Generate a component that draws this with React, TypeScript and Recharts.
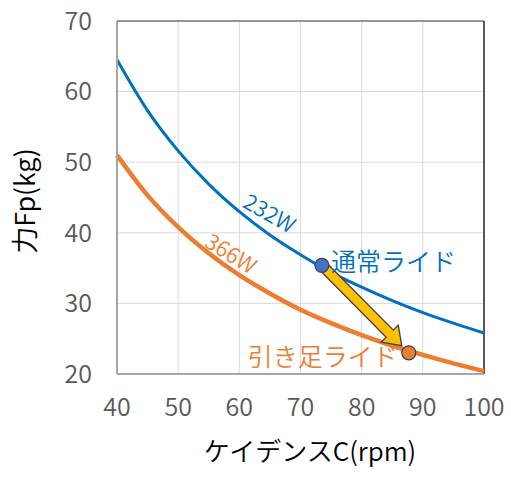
import React from 'react';
import {
  ComposedChart,
  Line,
  XAxis,
  YAxis,
  CartesianGrid,
  ReferenceLine,
  ReferenceDot,
} from 'recharts';

document.body.style.margin = '0';

const cadence = [40, 45, 50, 55, 60, 65, 70, 75, 80, 85, 90, 95, 100];
const normalForce = [64.5, 57.3, 51.6, 46.9, 43.0, 39.7, 36.9, 34.4, 32.3, 30.4, 28.7, 27.2, 25.8];
const pullForce = [51.0, 45.3, 40.8, 37.1, 34.0, 31.4, 29.1, 27.2, 25.5, 24.0, 22.7, 21.5, 20.4];

const xTicks = [40, 50, 60, 70, 80, 90, 100];
const yTicks = [20, 30, 40, 50, 60, 70];

const normalRide = { c: 73.5, f: 35.4, label: '通常ライド' };
const pullRide = { c: 87.7, f: 23.0, label: '引き足ライド' };
const normalWatt = { c: 65.1, f: 43.0, label: '232W' };
const pullWatt = { c: 58.8, f: 37.3, label: '366W' };

const data = cadence.map((c, i) => ({ c, normal: normalForce[i], pull: pullForce[i] }));

const BLUE = '#0070C0';
const ORANGE = '#ED7D31';
const FONT = '"Noto Sans CJK JP", "Noto Sans", sans-serif';
const WEIGHT = 350;

// fat yellow arrow from one point toward another, stopping short of the end dot
const Arrow = (props: any) => {
  const { x1, y1, x2, y2 } = props;
  const dx = x2 - x1;
  const dy = y2 - y1;
  const len = Math.sqrt(dx * dx + dy * dy);
  const ux = dx / len;
  const uy = dy / len;
  const px = -uy;
  const py = ux;
  const total = len - 10;
  const head = 17;
  const shaft = 5;
  const wing = 12;
  const pt = (along: number, side: number) =>
    `${x1 + ux * along + px * side},${y1 + uy * along + py * side}`;
  const points = [
    pt(0, shaft),
    pt(total - head, shaft),
    pt(total - head, wing),
    pt(total, 0),
    pt(total - head, -wing),
    pt(total - head, -shaft),
    pt(0, -shaft),
  ].join(' ');
  return <polygon points={points} fill="#FFC000" stroke="#3A3F55" strokeWidth={1.3} strokeLinejoin="miter" />;
};

const slopeLabel = (text: string, color: string, angle: number) => (props: any) => {
  const { cx, cy } = props;
  return (
    <text
      x={cx}
      y={cy}
      fill={color}
      fontSize={22}
      fontWeight={WEIGHT}
      fontFamily={FONT}
      textAnchor="middle"
      dominantBaseline="central"
      transform={`rotate(${angle} ${cx} ${cy})`}
    >
      {text}
    </text>
  );
};

const rideDot = (text: string, color: string, fill: string, side: 'right' | 'left', dy: number) => (props: any) => {
  const { cx, cy } = props;
  return (
    <g>
      <circle cx={cx} cy={cy} r={7} fill={fill} stroke="#3A3F55" strokeWidth={1.2} />
      <text
        x={side === 'right' ? cx + 9 : cx - 11}
        y={cy + dy}
        fill={color}
        fontSize={25}
        fontWeight={WEIGHT}
        fontFamily={FONT}
        textAnchor={side === 'right' ? 'start' : 'end'}
        dominantBaseline="central"
      >
        {text}
      </text>
    </g>
  );
};

const tickStyle = { fill: '#595959', fontSize: 25, fontWeight: WEIGHT, fontFamily: FONT };

export default function App() {
  return (
    <div style={{ position: 'relative', width: 511, height: 479, background: '#fff' }}>
      <ComposedChart
        width={511}
        height={479}
        data={data}
        margin={{ top: 21, right: 27, left: 0, bottom: 0 }}
      >
        <CartesianGrid stroke="#D9D9D9" strokeWidth={1} />
        <XAxis
          dataKey="c"
          type="number"
          domain={[40, 100]}
          ticks={xTicks}
          height={105}
          tickLine={false}
          tickSize={0}
          tickMargin={24}
          axisLine={{ stroke: '#A6A6A6', strokeWidth: 2 }}
          tick={tickStyle}
          interval={0}
        />
        <YAxis
          type="number"
          domain={[20, 70]}
          ticks={yTicks}
          width={117}
          tickLine={false}
          tickSize={0}
          tickMargin={25}
          axisLine={{ stroke: '#A6A6A6', strokeWidth: 2 }}
          tick={tickStyle}
          interval={0}
        />
        <ReferenceLine y={70} stroke="#404040" strokeWidth={1} />
        <ReferenceLine x={100} stroke="#262626" strokeWidth={1.5} />
        <Line
          dataKey="normal"
          type="monotone"
          stroke={BLUE}
          strokeWidth={3}
          dot={false}
          activeDot={false}
          isAnimationActive={false}
        />
        <Line
          dataKey="pull"
          type="monotone"
          stroke={ORANGE}
          strokeWidth={4.5}
          dot={false}
          activeDot={false}
          isAnimationActive={false}
        />
        <ReferenceLine
          segment={[
            { x: normalRide.c, y: normalRide.f },
            { x: pullRide.c, y: pullRide.f },
          ]}
          shape={Arrow}
        />
        <ReferenceDot x={normalWatt.c} y={normalWatt.f} r={0} shape={slopeLabel(normalWatt.label, BLUE, 30)} />
        <ReferenceDot x={pullWatt.c} y={pullWatt.f} r={0} shape={slopeLabel(pullWatt.label, ORANGE, 32)} />
        <ReferenceDot
          x={normalRide.c}
          y={normalRide.f}
          r={7}
          shape={rideDot(normalRide.label, BLUE, '#4472C4', 'right', -5)}
        />
        <ReferenceDot
          x={pullRide.c}
          y={pullRide.f}
          r={7}
          shape={rideDot(pullRide.label, ORANGE, ORANGE, 'left', 2)}
        />
      </ComposedChart>
      <div
        style={{
          position: 'absolute',
          left: 23,
          top: 201,
          transform: 'translate(-50%, -50%) rotate(-90deg)',
          fontFamily: FONT,
          fontSize: 27,
          fontWeight: WEIGHT,
          color: '#000',
          whiteSpace: 'nowrap',
          lineHeight: 1,
        }}
      >
        力Fp(kg)
      </div>
      <div
        style={{
          position: 'absolute',
          left: 310,
          top: 450,
          transform: 'translate(-50%, -50%)',
          fontFamily: FONT,
          fontSize: 26,
          fontWeight: WEIGHT,
          color: '#000',
          whiteSpace: 'nowrap',
          lineHeight: 1,
        }}
      >
        ケイデンスC(rpm)
      </div>
    </div>
  );
}
